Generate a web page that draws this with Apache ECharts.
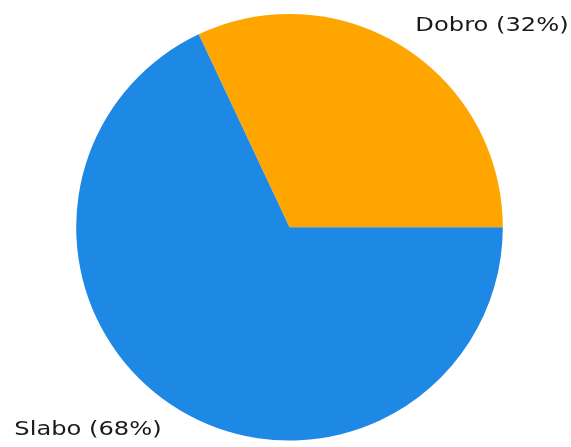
<!DOCTYPE html>
<html><head><meta charset="utf-8">
<script src="https://cdn.jsdelivr.net/npm/echarts@6/dist/echarts.min.js"></script>
<style>html,body{margin:0;padding:0;background:#fff}#c{width:571px;height:447px}</style>
</head><body><div id="c"></div>
<script>
const categories = ['Dobro', 'Slabo'];
const values = [32, 68];
const colors = ['#FFA500', '#1E88E5'];
const labelPos = [{x: 492, y: 26}, {x: 88, y: 430}];

const chart = echarts.init(document.getElementById('c'), null, {renderer: 'canvas'});
chart.setOption({
  animation: false,
  series: [{
    type: 'pie',
    center: [289.5, 227.3],
    radius: 213.3,
    startAngle: 0,
    clockwise: false,
    data: categories.map((c, i) => ({name: c, value: values[i], itemStyle: {color: colors[i]}})),
    label: {show: false},
    labelLine: {show: false},
    emphasis: {disabled: true}
  }],
  graphic: categories.map((c, i) => ({
    type: 'text',
    x: labelPos[i].x,
    y: labelPos[i].y,
    scaleX: 1.24,
    style: {
      text: c + ' (' + values[i] + '%)',
      font: '19.5px "DejaVu Sans"',
      fill: '#1a1a1a',
      align: 'center',
      verticalAlign: 'middle'
    }
  }))
});
</script></body></html>
